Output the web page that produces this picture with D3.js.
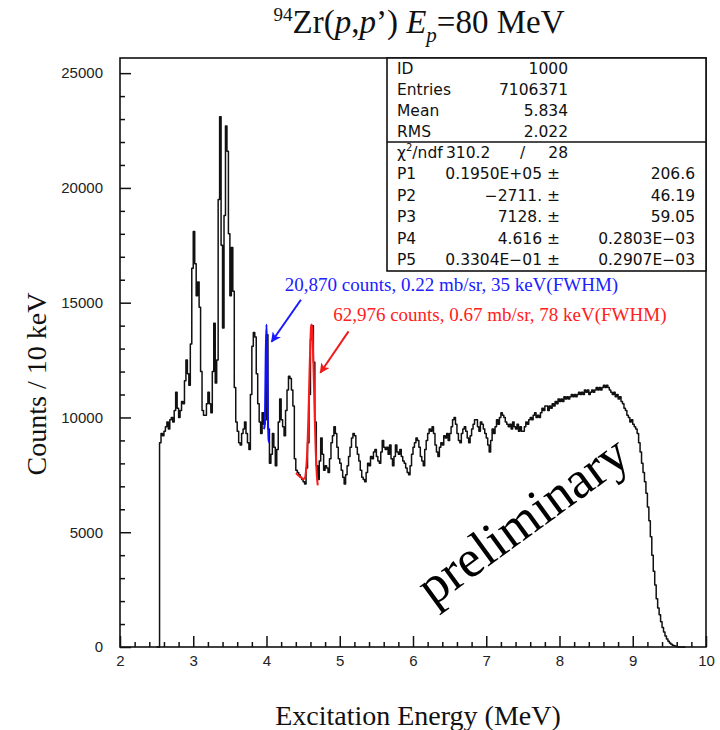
<!DOCTYPE html>
<html>
<head>
<meta charset="utf-8">
<script src="https://cdn.jsdelivr.net/npm/d3@7"></script>
<style>
    body { margin: 0; background: #fff; }
    .tick text { font-family: 'Liberation Sans', Arial, sans-serif; font-size: 15px; fill: #222; }
    .axis-title { font-family: 'Liberation Serif', 'Times New Roman', serif; font-size: 28px; fill: #111; }
    .stats text { font-family: 'DejaVu Sans', sans-serif; font-size: 15.5px; fill: #111; }
</style>
</head>
<body>
<svg id="chart"></svg>
<script>

// Histogram: counts per bin, bins of 20 keV starting at 2.50 MeV
const binStart = 2.50;
const binWidth = 0.02;
const counts = [
    0, 0, 8900, 9300, 9200, 9400, 9600, 9800, 9500, 9900,
    10000, 9800, 10300, 11100, 10400, 10000, 10300, 10700, 10600, 11600,
    12500, 11900, 11400, 13200, 16500, 18100, 16700, 15300, 15900, 14800,
    12000, 10300, 10100, 10100, 10600, 11100, 10600, 10200, 12000, 14100,
    11500, 12500, 19500, 23100, 17500, 13900, 18800, 22700, 21600, 18000,
    15300, 17400, 15500, 11300, 9800, 9400, 8900, 8800, 9300, 9500,
    9800, 9300, 8900, 8600, 11000, 13100, 13700, 13500, 11900, 10600,
    9800, 9300, 10200, 9700, 9900, 13600, 9500, 8000, 8400, 9300,
    8700, 7900, 8600, 9800, 10800, 9900, 9600, 9200, 10300, 11200,
    11800, 11700, 11200, 10500, 8200, 7700, 7600, 7500, 7400, 7300,
    7200, 7100, 7800, 8900, 11000, 13400, 14000, 12400, 9800, 7900,
    7300, 8100, 9100, 8400, 7700, 7900, 7800, 7600, 8200, 8900,
    9200, 9600, 9300, 8700, 8200, 8000, 7700, 7400, 7100, 7500,
    7900, 8300, 8700, 9100, 9300, 9200, 8700, 8400, 8100, 7700,
    7400, 7300, 7200, 7600, 8000, 7900, 8300, 8200, 8500, 8600,
    8300, 8100, 8000, 8500, 9000, 8700, 8600, 8700, 8400, 8800,
    8200, 7900, 8300, 8800, 8500, 8400, 8600, 8300, 8100, 8000,
    7800, 7600, 7500, 7900, 8400, 8700, 8900, 9100, 9000, 8700,
    8300, 8100, 7900, 8600, 9000, 9300, 9500, 9400, 9600, 9300,
    8800, 8500, 8300, 8700, 8900, 8800, 9200, 9100, 9300, 9000,
    9300, 9600, 9900, 10000, 9700, 9300, 9000, 8900, 9300, 9500,
    9600, 9400, 9100, 8900, 9200, 9500, 9700, 9900, 9900, 9600,
    9400, 9800, 9700, 9500, 9300, 9100, 8800, 8500, 9000, 9500,
    9300, 9600, 9900, 9700, 10000, 10200, 10100, 10000, 9800, 9700,
    9600, 9700, 9500, 9800, 9600, 9500, 9700, 9400, 9600, 9400,
    9400, 9600, 9800, 9700, 9900, 10000, 9900, 10100, 10200, 10000,
    10100, 10000, 10200, 10400, 10300, 10500, 10500, 10300, 10500, 10400,
    10600, 10500, 10700, 10600, 10800, 10700, 10800, 10700, 10900, 10800,
    10900, 10800, 10900, 11000, 10900, 11000, 10900, 11000, 11100, 11000,
    11100, 11000, 11200, 11100, 11200, 11000, 11100, 11200, 11100, 11200,
    11300, 11200, 11300, 11200, 11300, 11400, 11300, 11400, 11300, 11200,
    11100, 11000, 11100, 10900, 11000, 10800, 10900, 10700, 10600, 10400,
    10300, 10100, 10000, 9800, 9900, 9700, 9600, 9500, 9300, 8900,
    8500, 8000, 7600, 7200, 6700, 6100, 5500, 4800, 4000, 3300,
    2700, 2100, 1700, 1400, 1100, 850, 650, 480, 350, 250,
    170, 120, 80, 50, 30, 15, 5, 0, 0, 0,
    0
];

// Fitted peaks (drawn over the histogram)
const blueEnergy = [3.96, 3.97, 3.98, 3.99, 4.00, 4.01, 4.02, 4.03, 4.04];
const blueCounts = [9500, 9550, 10200, 12800, 14050, 12600, 10000, 9000, 8900];
const redEnergy = [4.40, 4.42, 4.44, 4.46, 4.48, 4.50, 4.52, 4.54, 4.56, 4.57, 4.58, 4.59, 4.60,
    4.61, 4.62, 4.63, 4.64, 4.65, 4.66, 4.67, 4.68, 4.69, 4.70];
const redCounts = [7570, 7520, 7460, 7410, 7360, 7320, 7350, 7700, 8830, 9810, 11020, 12280, 13370,
    14010, 14050, 13460, 12390, 11090, 9810, 8710, 7900, 7370, 7040];

// Axis ticks
const xMajorTicks = [2, 3, 4, 5, 6, 7, 8, 9, 10];
const yMajorTicks = [0, 5000, 10000, 15000, 20000, 25000];

// Statistics box
const statsRows = [['ID', '1000'], ['Entries', '7106371'], ['Mean', '5.834'], ['RMS', '2.022']];
const chiSquare = ['310.2', '28'];
const fitRows = [
    ['P1', '0.1950E+05 ±', '206.6'],
    ['P2', '\u22122711. ±', '46.19'],
    ['P3', '7128. ±', '59.05'],
    ['P4', '4.616 ±', '0.2803E\u221203'],
    ['P5', '0.3304E\u221201 ±', '0.2907E\u221203']
];

// Annotations [energy, counts]
const blueLabel = {text: '20,870 counts, 0.22 mb/sr, 35 keV(FWHM)', at: [4.25, 15530]};
const redLabel = {text: '62,976 counts, 0.67 mb/sr, 78 keV(FWHM)', at: [4.91, 14210]};
const blueArrow = [[4.47, 15130], [4.07, 13300]];
const redArrow = [[5.12, 13750], [4.735, 11950]];
const watermark = {text: 'preliminary', at: [7.49, 5550]};

class SpectrumPlot {

    constructor(_config) {
        this.config = {
            parentElement: _config.parentElement,
            containerWidth: 720,
            containerHeight: 730,
            margin: {top: 58, right: 14, bottom: 83, left: 120},
            yMax: 25660
        }
        this.initVis();
    }

    initVis() {
        let vis = this;

        vis.width = vis.config.containerWidth - vis.config.margin.left - vis.config.margin.right;
        vis.height = vis.config.containerHeight - vis.config.margin.top - vis.config.margin.bottom;

        vis.xScale = d3.scaleLinear()
            .domain([2, 10])
            .range([0, vis.width]);

        vis.yScale = d3.scaleLinear()
            .domain([0, vis.config.yMax])
            .range([vis.height, 0]);

        vis.svg = d3.select(vis.config.parentElement)
            .attr('width', vis.config.containerWidth)
            .attr('height', vis.config.containerHeight);

        vis.chart = vis.svg.append('g')
            .attr('transform', `translate(${vis.config.margin.left},${vis.config.margin.top})`);

        // ticks point inwards, ROOT/PAW style
        const xMinor = d3.range(20, 101, 2).map(d => d / 10).filter(d => !xMajorTicks.includes(d));
        const yMinor = d3.range(1000, 25001, 1000).filter(d => !yMajorTicks.includes(d));

        vis.chart.append('g')
            .attr('class', 'axis x-axis')
            .attr('transform', `translate(0,${vis.height})`)
            .call(d3.axisBottom(vis.xScale).tickValues(xMajorTicks).tickSize(-11).tickPadding(8).tickFormat(d3.format('d')))
            .call(g => g.select('.domain').remove());

        vis.chart.append('g')
            .attr('transform', `translate(0,${vis.height})`)
            .call(d3.axisBottom(vis.xScale).tickValues(xMinor).tickSize(-5).tickFormat(''))
            .call(g => g.select('.domain').remove());

        vis.chart.append('g')
            .attr('class', 'axis y-axis')
            .call(d3.axisLeft(vis.yScale).tickValues(yMajorTicks).tickSize(-11).tickPadding(17).tickFormat(d3.format('d')))
            .call(g => g.select('.domain').remove());

        vis.chart.append('g')
            .call(d3.axisLeft(vis.yScale).tickValues(yMinor).tickSize(-5).tickFormat(''))
            .call(g => g.select('.domain').remove());

        vis.chart.selectAll('.tick line')
            .attr('stroke', '#111')
            .attr('stroke-width', 1.5);

        // frame
        vis.chart.append('rect')
            .attr('width', vis.width)
            .attr('height', vis.height)
            .attr('fill', 'none')
            .attr('stroke', '#111')
            .attr('stroke-width', 1.6);

        // Title
        const title = vis.svg.append('text')
            .attr('x', vis.config.margin.left + vis.width / 2 + 6)
            .attr('y', 33)
            .attr('text-anchor', 'middle')
            .style('font-family', "'Liberation Serif', 'Times New Roman', serif")
            .style('font-size', '33px')
            .attr('fill', '#111');
        title.append('tspan').attr('font-size', '19px').attr('dy', -12).text('94');
        title.append('tspan').attr('dy', 12).text('Zr(');
        title.append('tspan').attr('font-style', 'italic').text('p');
        title.append('tspan').text(',');
        title.append('tspan').attr('font-style', 'italic').text('p');
        title.append('tspan').text('\u2019) ');
        title.append('tspan').attr('font-style', 'italic').text('E');
        title.append('tspan').attr('font-style', 'italic').attr('font-size', '21px').attr('dy', 9).text('p');
        title.append('tspan').attr('dy', -9).text('=80 MeV');

        // Axis titles
        vis.svg.append('text')
            .attr('class', 'axis-title')
            .attr('x', vis.config.margin.left + vis.xScale(6) + 5)
            .attr('y', 725)
            .attr('text-anchor', 'middle')
            .text('Excitation Energy (MeV)');

        vis.svg.append('text')
            .attr('class', 'axis-title')
            .attr('transform', 'translate(46,384) rotate(-90)')
            .attr('text-anchor', 'middle')
            .text('Counts / 10 keV');

        vis.updateVis();
    }

    updateVis() {
        let vis = this;

        // one point per bin low edge, plus the closing edge for the step line
        vis.bins = counts.map((c, i) => ({e: binStart + i * binWidth, c: c}));
        vis.bins.push({e: binStart + counts.length * binWidth, c: 0});

        vis.blue = blueEnergy.map((e, i) => ({e: e, c: blueCounts[i]}));
        vis.red = redEnergy.map((e, i) => ({e: e, c: redCounts[i]}));

        vis.renderVis();
    }

    renderVis() {
        let vis = this;
        const X = d => vis.xScale(d.e);
        const Y = d => vis.yScale(d.c);

        const stepLine = d3.line().x(X).y(Y).curve(d3.curveStepAfter);
        const smoothLine = d3.line().x(X).y(Y).curve(d3.curveMonotoneX);

        vis.chart.append('path')
            .datum(vis.bins)
            .attr('d', stepLine)
            .attr('fill', 'none')
            .attr('stroke', '#111')
            .attr('stroke-width', 1.5)
            .attr('stroke-linejoin', 'round');

        vis.chart.append('path')
            .datum(vis.blue)
            .attr('d', smoothLine)
            .attr('fill', 'none')
            .attr('stroke', '#1010ff')
            .attr('stroke-width', 2);

        vis.chart.append('path')
            .datum(vis.red)
            .attr('d', smoothLine)
            .attr('fill', 'none')
            .attr('stroke', '#ff1a1a')
            .attr('stroke-width', 2);

        // Arrows
        const defs = vis.svg.append('defs');
        [['blue-head', '#1a1aff'], ['red-head', '#ee1c1c']].forEach(([id, color]) => {
            defs.append('marker')
                .attr('id', id)
                .attr('viewBox', '0 0 10 10')
                .attr('refX', 9)
                .attr('refY', 5)
                .attr('markerWidth', 13)
                .attr('markerHeight', 10)
                .attr('markerUnits', 'userSpaceOnUse')
                .attr('orient', 'auto')
                .append('path')
                .attr('d', 'M0,0 L10,5 L0,10 L2.5,5 Z')
                .attr('fill', color);
        });

        const arrowLine = d3.line().x(d => vis.xScale(d[0])).y(d => vis.yScale(d[1]));
        vis.chart.append('path')
            .attr('d', arrowLine(blueArrow))
            .attr('stroke', '#1a1aff')
            .attr('stroke-width', 2)
            .attr('marker-end', 'url(#blue-head)');
        vis.chart.append('path')
            .attr('d', arrowLine(redArrow))
            .attr('stroke', '#ee1c1c')
            .attr('stroke-width', 2)
            .attr('marker-end', 'url(#red-head)');

        [[blueLabel, '#2020ff'], [redLabel, '#ff2020']].forEach(([lab, color]) => {
            vis.chart.append('text')
                .attr('x', vis.xScale(lab.at[0]))
                .attr('y', vis.yScale(lab.at[1]))
                .style('font-family', "'Liberation Serif', 'Times New Roman', serif")
                .style('font-size', '19px')
                .attr('fill', color)
                .text(lab.text);
        });

        vis.chart.append('text')
            .attr('transform', `translate(${vis.xScale(watermark.at[0])},${vis.yScale(watermark.at[1])}) rotate(-36)`)
            .attr('text-anchor', 'middle')
            .attr('dominant-baseline', 'central')
            .style('font-family', "'Liberation Serif', 'Times New Roman', serif")
            .style('font-size', '53px')
            .attr('fill', '#000')
            .text(watermark.text);

        vis.renderStats();
    }

    renderStats() {
        let vis = this;
        const box = vis.svg.append('g').attr('class', 'stats');
        const left = 387, right = 706, top = 58, split = 142, bottom = 271;

        box.append('rect')
            .attr('x', left).attr('y', top)
            .attr('width', right - left).attr('height', bottom - top)
            .attr('fill', '#fff')
            .attr('stroke', '#111')
            .attr('stroke-width', 1.6);
        box.append('line')
            .attr('x1', left).attr('x2', right)
            .attr('y1', split).attr('y2', split)
            .attr('stroke', '#111')
            .attr('stroke-width', 1.6);

        const rowH = (split - top) / statsRows.length;
        statsRows.forEach(([k, v], i) => {
            const y = top + rowH * (i + 0.5);
            box.append('text').attr('x', 397).attr('y', y).attr('dominant-baseline', 'central').text(k);
            box.append('text').attr('x', 568).attr('y', y).attr('dominant-baseline', 'central')
                .attr('text-anchor', 'end').text(v);
        });

        const fitH = (bottom - split) / (fitRows.length + 1);
        const chiY = split + fitH * 0.5;
        const chi = box.append('text').attr('x', 397).attr('y', chiY).attr('dominant-baseline', 'central');
        chi.append('tspan').text('\u03c7');
        chi.append('tspan').attr('font-size', '10px').attr('dy', -6).text('2');
        chi.append('tspan').attr('dy', 6).text('/ndf');
        box.append('text').attr('x', 446).attr('y', chiY).attr('dominant-baseline', 'central').text(chiSquare[0]);
        box.append('text').attr('x', 520).attr('y', chiY).attr('dominant-baseline', 'central').text('/');
        box.append('text').attr('x', 568).attr('y', chiY).attr('dominant-baseline', 'central')
            .attr('text-anchor', 'end').text(chiSquare[1]);

        fitRows.forEach(([k, v, err], i) => {
            const y = split + fitH * (i + 1.5);
            box.append('text').attr('x', 397).attr('y', y).attr('dominant-baseline', 'central').text(k);
            box.append('text').attr('x', 560).attr('y', y).attr('dominant-baseline', 'central')
                .attr('text-anchor', 'end').text(v);
            box.append('text').attr('x', 695).attr('y', y).attr('dominant-baseline', 'central')
                .attr('text-anchor', 'end').text(err);
        });
    }
}

new SpectrumPlot({parentElement: '#chart'});
</script>
</body>
</html>
